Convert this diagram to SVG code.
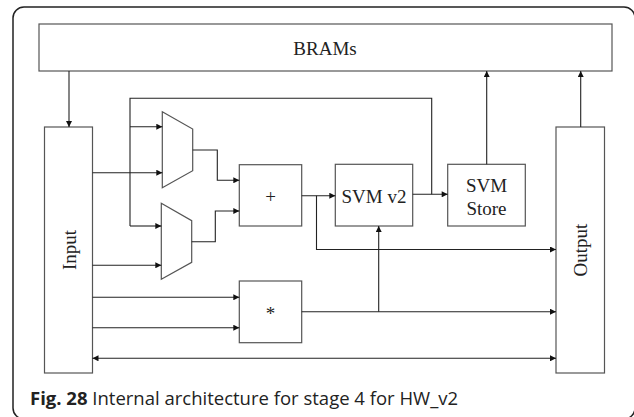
<svg xmlns="http://www.w3.org/2000/svg" width="634" height="417" viewBox="0 0 634 417">
<defs>
<marker id="ah" viewBox="0 0 10 10" refX="10" refY="5" markerWidth="7" markerHeight="6" markerUnits="userSpaceOnUse" orient="auto-start-reverse">
<path d="M0,0 L10,5 L0,10 z" fill="#111"/>
</marker>
<style>
.box{fill:#fff;stroke:#555;stroke-width:1.2}
.ln{fill:none;stroke:#222;stroke-width:1.1}
.ar{fill:none;stroke:#222;stroke-width:1.1;marker-end:url(#ah)}
.lbl{font-family:"Liberation Serif","Times New Roman",serif;fill:#222;text-anchor:middle}
.cap{font-family:"Open Sans","Noto Sans",sans-serif;font-size:18.5px;fill:#222}
</style>
</defs>
<rect x="13" y="7" width="622" height="412" rx="11" ry="11" fill="#fff" stroke="#222" stroke-width="1.5"/>
<g id="brams"><rect class="box" x="39" y="24" width="573" height="47"/><text class="lbl" x="325" y="55" font-size="19">BRAMs</text></g>
<g id="input"><rect class="box" x="44.5" y="127" width="48" height="246"/><text class="lbl" font-size="19" transform="translate(76,250) rotate(-90)">Input</text></g>
<g id="output"><rect class="box" x="556" y="127" width="48.5" height="246"/><text class="lbl" font-size="19" transform="translate(587,250) rotate(-90)">Output</text></g>
<g id="mux1"><path class="box" d="M162.3,111.7 L192.7,129 L192.7,170.7 L162.3,187.7 Z"/></g>
<g id="mux2"><path class="box" d="M161.3,203.3 L191.7,220.7 L191.7,262.3 L161.3,279.3 Z"/></g>
<g id="adder"><rect class="box" x="239.3" y="164.7" width="62.4" height="61.3"/><text class="lbl" x="270.5" y="203" font-size="19">+</text></g>
<g id="mult"><rect class="box" x="239.3" y="281" width="62.4" height="61.7"/><text class="lbl" x="270.5" y="320" font-size="19">*</text></g>
<g id="svmv2"><rect class="box" x="335.3" y="164.3" width="77.4" height="61.7"/><text class="lbl" x="374" y="203" font-size="19">SVM v2</text></g>
<g id="svmstore"><rect class="box" x="447.7" y="164.3" width="77.6" height="61.7"/><text class="lbl" x="486.5" y="191.5" font-size="19">SVM</text><text class="lbl" x="486.5" y="215" font-size="19">Store</text></g>
<g id="connectors">
<path class="ar" d="M69,71 V127"/>
<path class="ar" d="M486.7,164.3 V71"/>
<path class="ar" d="M580.7,127 V71"/>
<path class="ln" d="M431.7,194.3 V98.3 H130 V226"/>
<path class="ar" d="M130,126.7 H162.3"/>
<path class="ar" d="M92.5,172.7 H162.3"/>
<path class="ar" d="M130,226 H161.3"/>
<path class="ar" d="M92.5,265.3 H161.3"/>
<path class="ar" d="M192.7,150 H217.3 V180.3 H239.3"/>
<path class="ar" d="M191.7,241.7 H215.3 V211 H239.3"/>
<path class="ar" d="M301.7,195.7 H335.3"/>
<path class="ar" d="M316.5,195.7 V249.5 H556"/>
<path class="ar" d="M412.7,194.3 H447.7"/>
<path class="ar" d="M92.5,297.3 H239.3"/>
<path class="ar" d="M92.5,327.7 H239.3"/>
<path class="ar" d="M301.7,311.7 H556"/>
<path class="ar" d="M378.7,311.7 V226"/>
<path class="ar" d="M92.5,358.3 H556" style="marker-start:url(#ah)"/>
</g>
<text class="cap" x="30" y="405"><tspan font-weight="bold">Fig. 28</tspan> Internal architecture for stage 4 for HW_v2</text>
</svg>
